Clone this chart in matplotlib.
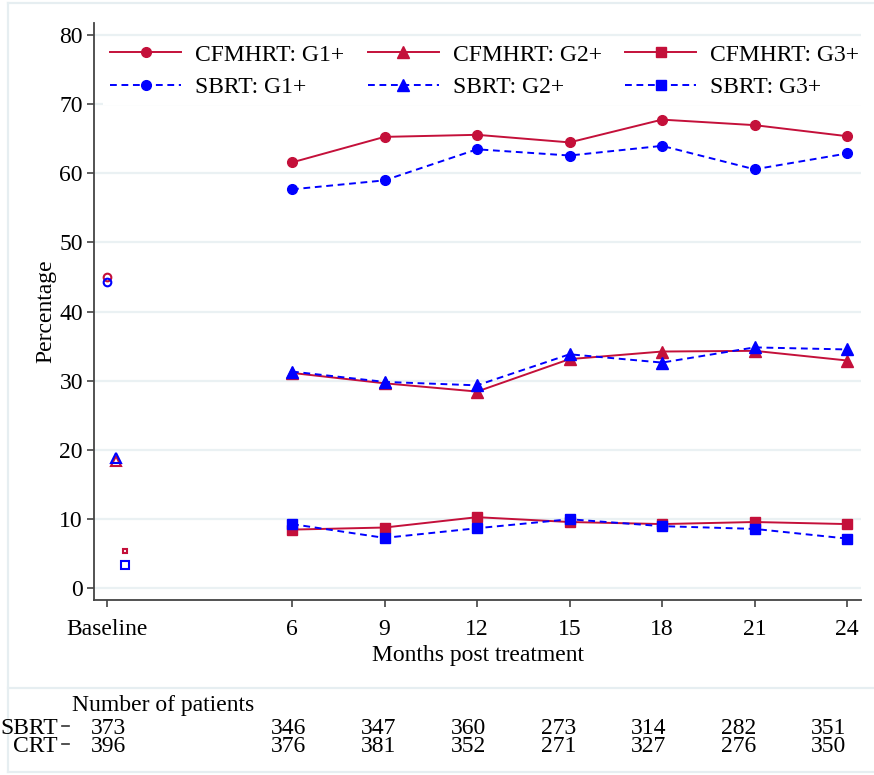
import matplotlib
matplotlib.use("Agg")
import matplotlib.pyplot as plt

plt.rcParams["font.family"] = ["Liberation Serif", "DejaVu Serif"]

# ---- data ----
months = [6, 9, 12, 15, 18, 21, 24]
xtick_pos = [0, 6, 9, 12, 15, 18, 21, 24]
xtick_labels = ["Baseline", "6", "9", "12", "15", "18", "21", "24"]

cfmhrt_g1 = [61.6, 65.3, 65.6, 64.5, 67.8, 67.0, 65.4]
sbrt_g1 = [57.7, 59.0, 63.5, 62.6, 64.0, 60.6, 62.9]
cfmhrt_g2 = [31.1, 29.6, 28.4, 33.1, 34.2, 34.3, 32.9]
sbrt_g2 = [31.3, 29.8, 29.3, 33.8, 32.6, 34.8, 34.5]
cfmhrt_g3 = [8.4, 8.7, 10.2, 9.5, 9.2, 9.5, 9.2]
sbrt_g3 = [9.2, 7.2, 8.6, 9.9, 8.9, 8.5, 7.1]

# baseline values (G1+, G2+, G3+)
base_cfmhrt = [45.0, 18.3, 5.3]
base_sbrt = [44.3, 18.8, 3.2]
base_offsets = [0.0, 0.3, 0.6]

table_months = [0, 6, 9, 12, 15, 18, 21, 24]
n_sbrt = [373, 346, 347, 360, 273, 314, 282, 351]
n_crt = [396, 376, 381, 352, 271, 327, 276, 350]

RED = "#C4103A"
BLUE = "#0000FF"
GRID = "#EAF1F3"
FRAME = "#E6EEF1"
AXC = "#444444"
FS = 17

W, H = 874, 775
fig = plt.figure(figsize=(W / 100, H / 100), dpi=100)

# background frames (pixel coordinates)
bg = fig.add_axes([0, 0, 1, 1], zorder=-5)
bg.set_xlim(0, W)
bg.set_ylim(H, 0)
bg.axis("off")
for xs, ys in [([8, W], [3, 3]), ([8, 8], [3, 772]), ([8, W], [688, 688]),
               ([8, W], [772, 772])]:
    bg.plot(xs, ys, color=FRAME, lw=1.6)

# main axes
ax = fig.add_axes([94 / W, 1 - 600 / H, (861 - 94) / W, (600 - 23) / H])
ax.set_xlim(-0.42, 24.45)
ax.set_ylim(-1.8, 81.8)
for s in ["top", "right"]:
    ax.spines[s].set_visible(False)
for s in ["left", "bottom"]:
    ax.spines[s].set_color(AXC)
    ax.spines[s].set_linewidth(1.3)

ax.set_yticks(range(0, 81, 10))
ax.set_xticks(xtick_pos)
ax.set_xticklabels(xtick_labels)
ax.tick_params(axis="both", labelsize=FS, color=AXC, length=5, width=1.2)
ax.tick_params(axis="x", pad=9)
ax.tick_params(axis="y", pad=3)
ax.yaxis.grid(True, color=GRID, lw=1.6)
ax.set_axisbelow(True)
ax.set_ylabel("Percentage", fontsize=FS, labelpad=2)
ax.set_xlabel("Months post treatment", fontsize=FS, labelpad=3)

lw = 1.4
dash = (0, (3.5, 2.4))
series = [
    (cfmhrt_g1, RED, "-", "o", 7, "CFMHRT: G1+"),
    (sbrt_g1, BLUE, dash, "o", 7, "SBRT: G1+"),
    (cfmhrt_g2, RED, "-", "^", 8, "CFMHRT: G2+"),
    (sbrt_g2, BLUE, dash, "^", 8, "SBRT: G2+"),
    (cfmhrt_g3, RED, "-", "s", 6.5, "CFMHRT: G3+"),
    (sbrt_g3, BLUE, dash, "s", 6.5, "SBRT: G3+"),
]
handles = []
for vals, c, ls, m, ms, lab in series:
    h, = ax.plot(months, vals, color=c, linestyle=ls, lw=lw, marker=m,
                 markersize=ms, label=lab, zorder=3)
    handles.append(h)

# baseline hollow markers
base_markers = ["o", "^", "s"]
red_sizes = [5.5, 7, 3]
blue_sizes = [5.5, 7, 6]
for i in range(3):
    ax.plot(base_offsets[i], base_cfmhrt[i], marker=base_markers[i],
            markersize=red_sizes[i], mfc="none", mec=RED, mew=1.5,
            linestyle="none", zorder=3)
    ax.plot(base_offsets[i], base_sbrt[i], marker=base_markers[i],
            markersize=blue_sizes[i], mfc="none", mec=BLUE, mew=1.5,
            linestyle="none", zorder=3)

leg = ax.legend(handles=handles, ncol=3, loc="upper left",
                bbox_to_anchor=(103 / W, 1 - 37 / H),
                bbox_transform=fig.transFigure,
                fontsize=FS, frameon=True, fancybox=False, framealpha=1,
                edgecolor="none", facecolor="white", handlelength=3.0,
                handletextpad=0.6, columnspacing=1.0, labelspacing=0.45,
                borderpad=0.3, borderaxespad=0)

# patient numbers table
tb = fig.add_axes([0, 0, 1, 1], zorder=2)
tb.set_xlim(-91 / 30, (W - 91) / 30)
tb.set_ylim(H, 0)
tb.axis("off")
tb.text(-19 / 30, 705, "Number of patients", fontsize=FS, ha="left", va="center")
for y, name, vals in [(729, "SBRT", n_sbrt), (747, "CRT", n_crt)]:
    tb.text(-33 / 30, y, name, fontsize=FS, ha="right", va="center")
    tb.plot([-29 / 30, -22 / 30], [y - 3, y - 3], color="#333333", lw=1.2)
    for m, v in zip(table_months, vals):
        tb.text(m, y, str(v), fontsize=FS, ha="left", va="center")

fig.savefig("out.png", dpi=100, facecolor="white")
